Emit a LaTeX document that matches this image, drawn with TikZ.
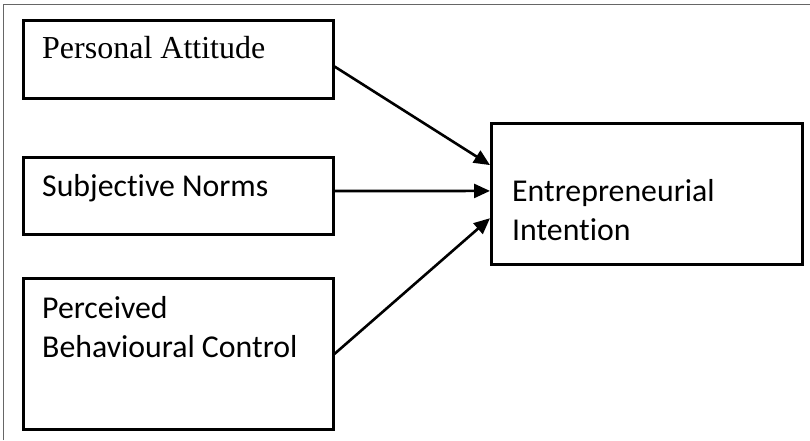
\documentclass[tikz,border=0pt]{standalone}
\usepackage{fontspec}
\setmainfont{Liberation Serif}
\newfontfamily\calfont[Ligatures=NoCommon]{Carlito}
\usetikzlibrary{arrows.meta,calc}
\begin{document}
\begin{tikzpicture}[x=1pt,y=-1pt,
  box/.style={draw=black,line width=2.6pt,rectangle,inner sep=0pt,anchor=north west},
  serlabel/.style={anchor=base west,inner sep=0pt,font=\fontsize{32}{38}\selectfont},
  sanslabel/.style={anchor=base west,inner sep=0pt,align=left,font=\calfont\fontsize{31.8}{39}\selectfont},
  arr/.style={draw=black,line width=2.6pt,-{Triangle[length=16pt,width=14pt]}},
  frameline/.style={draw=black!60,line width=1.8pt}]
\useasboundingbox (0,0) rectangle (810,440);
\coordinate (f1) at (3.5,440);
\coordinate (f2) at (3.5,4.5);
\coordinate (f3) at (810,4.5);
\draw[frameline] (f1) -- (f2) -- (f3);
\node[box,minimum width=310pt,minimum height=78pt] (pa) at (22,19) {};
\node[box,minimum width=310pt,minimum height=77pt] (sn) at (22,156) {};
\node[box,minimum width=310pt,minimum height=151pt] (pbc) at (22,277) {};
\node[box,minimum width=311pt,minimum height=141pt] (ei) at (490,122) {};
\node[serlabel] (tpa) at (42,58) {Personal Attitude};
\node[sanslabel] (tsn) at (42,196) {Subjective Norms};
\node[sanslabel] (tpbc) at (42,357) {Perceived\\Behavioural Control};
\node[sanslabel] (tei) at (512,240) {Entrepreneurial\\Intention};
\draw[arr] ($(pa.north east)!0.59!(pa.south east)$) -- ($(ei.north west)!0.30!(ei.south west)$);
\draw[arr] ($(sn.north east)!0.44!(sn.south east)$) -- ($(ei.north west)!0.48!(ei.south west)$);
\draw[arr] (pbc.east) -- ($(ei.north west)!0.67!(ei.south west)$);
\end{tikzpicture}
\end{document}
